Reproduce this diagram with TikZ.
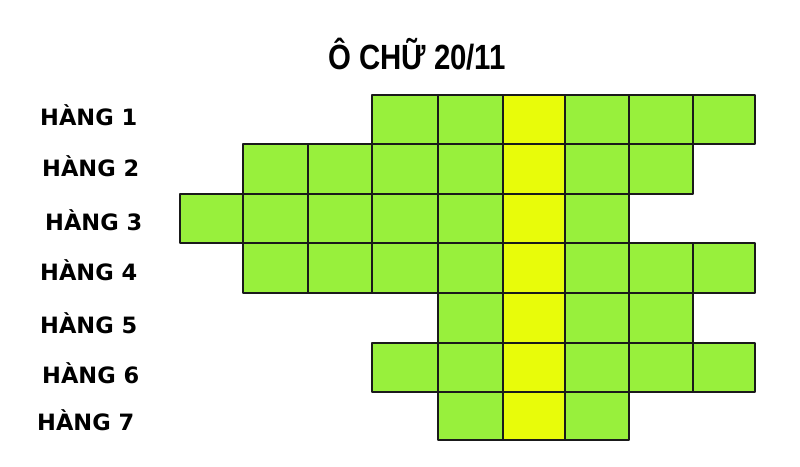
\documentclass[tikz,border=0pt]{standalone}
\usepackage{fontspec}
\setmainfont{DejaVu Sans}
\newfontfamily\titlefont{Liberation Sans}
\definecolor{grn}{HTML}{98F03C}
\definecolor{yel}{HTML}{E8FC0A}
\definecolor{edge}{HTML}{1A1A1A}
\begin{document}
\begin{tikzpicture}[x=1pt,y=-1pt]
\tikzset{
  cellbox/.style={draw=edge, line width=2.8pt, line join=round},
  rowlabel/.style={font=\bfseries\fontsize{22.5}{25}\selectfont, text=black, inner sep=0pt, anchor=west},
  titletext/.style={font=\titlefont\bfseries\fontsize{35}{40}\selectfont, text=black, inner sep=0pt}
}
\useasboundingbox[fill=white] (0,0) rectangle (800,466);
\def\cx{{180,243,308,372,438,503,565,629,693,755}}
\def\ry{{95,144,194,243,293,343,392,440}}
\foreach \r/\a/\b in {1/3/8,2/1/7,3/0/6,4/1/8,5/4/7,6/3/8,7/4/6} {
  \foreach \c in {\a,...,\b} {
    \pgfmathsetmacro\xl{\cx[\c]}
    \pgfmathsetmacro\xr{\cx[\c+1]}
    \pgfmathsetmacro\yt{\ry[\r-1]}
    \pgfmathsetmacro\yb{\ry[\r]}
    \ifnum\c=5 \def\fc{yel}\else\def\fc{grn}\fi
    \draw[cellbox, fill=\fc] (\xl,\yt) rectangle (\xr,\yb);
  }
}
\node[titletext] (title) at (417,54) {\scalebox{0.84}[1]{Ô CHỮ 20/11}};
\node[rowlabel] (h1) at (40,115) {HÀNG 1};
\node[rowlabel] (h2) at (42,166) {HÀNG 2};
\node[rowlabel] (h3) at (45,220) {HÀNG 3};
\node[rowlabel] (h4) at (40,270) {HÀNG 4};
\node[rowlabel] (h5) at (40,323) {HÀNG 5};
\node[rowlabel] (h6) at (42,373) {HÀNG 6};
\node[rowlabel] (h7) at (37,420) {HÀNG 7};
\end{tikzpicture}
\end{document}
